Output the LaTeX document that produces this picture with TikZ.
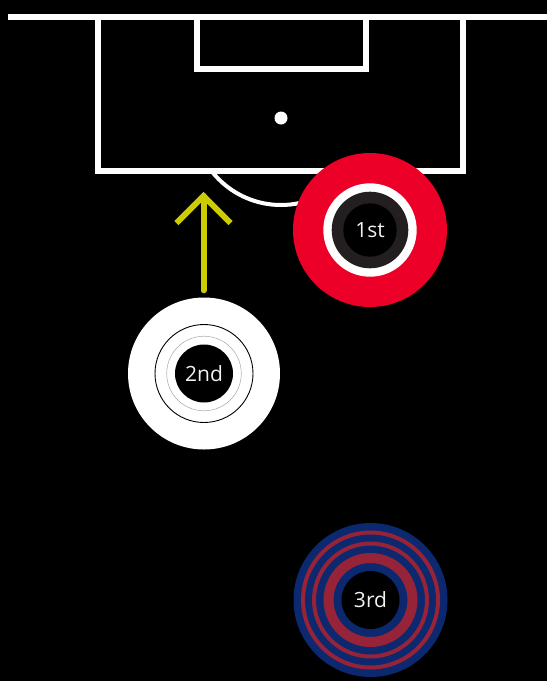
\documentclass[tikz,border=0pt]{standalone}
\usepackage{fontspec}
\setmainfont{Open Sans}
\definecolor{pitchline}{RGB}{255,255,255}
\definecolor{firstred}{RGB}{236,0,40}
\definecolor{darkring}{RGB}{35,31,32}
\definecolor{arrowcol}{RGB}{204,204,0}
\definecolor{navy}{RGB}{12,40,110}
\definecolor{thirdred}{RGB}{150,35,55}
\definecolor{labelcol}{RGB}{242,242,242}
\tikzset{
  line/.style={draw=pitchline, line width=6pt},
  disc/.style={circle, inner sep=0pt, minimum size=#1},
  lbl/.style={text=labelcol, font=\fontsize{21}{21}\selectfont},
  ring/.style={draw=#1, line width=4pt, fill=none}
}
\begin{document}
\begin{tikzpicture}[x=1pt, y=-1pt]
\useasboundingbox (0,0) rectangle (547,681);
\fill[black] (0,0) rectangle (547,681);
% pitch lines
\draw[line] (8,17) -- (547,17);
\draw[line, line join=miter] (98,17) -- (98,171) -- (463,171) -- (463,17);
\draw[line, line join=miter] (197,17) -- (197,69) -- (366,69) -- (366,17);
\fill[pitchline] (281,118) circle[radius=6.5];
\begin{scope}
  \clip (0,171) rectangle (547,300);
  \draw[pitchline, line width=4pt] (281,117) circle[radius=88];
\end{scope}
% first
\node[disc=154pt, fill=firstred] (first) at (370,230) {};
\fill[pitchline] (first.center) circle[radius=46.7];
\fill[darkring] (first.center) circle[radius=38.3];
\node[disc=53.4pt, fill=black, lbl] (firstlbl) at (first.center) {1st};
% second
\node[disc=152pt, fill=white] (second) at (204,373.5) {};
\draw[black, line width=0.9pt] (second.center) circle[radius=49];
\draw[black!35, line width=0.5pt] (second.center) circle[radius=37.3];
\node[disc=58pt, fill=black, lbl] (secondlbl) at (second.center) {2nd};
% third
\node[disc=154pt, fill=navy] (third) at (370.5,600) {};
\draw[thirdred, line width=4pt] (third.center) circle[radius=67.5];
\draw[thirdred, line width=4pt] (third.center) circle[radius=56.5];
\draw[thirdred, line width=10pt] (third.center) circle[radius=42];
\node[disc=58pt, fill=black, lbl] (thirdlbl) at (third.center) {3rd};
% arrow
\coordinate (tip) at (203.5,196);
\draw[arrowcol, line width=6pt, line cap=round] ([yshift=7pt]second.north -| tip) -- (tip);
\draw[arrowcol, line width=6pt, line join=miter] ([shift={(-27,27)}]tip) -- (tip) -- ([shift={(27,27)}]tip);
\end{tikzpicture}
\end{document}
